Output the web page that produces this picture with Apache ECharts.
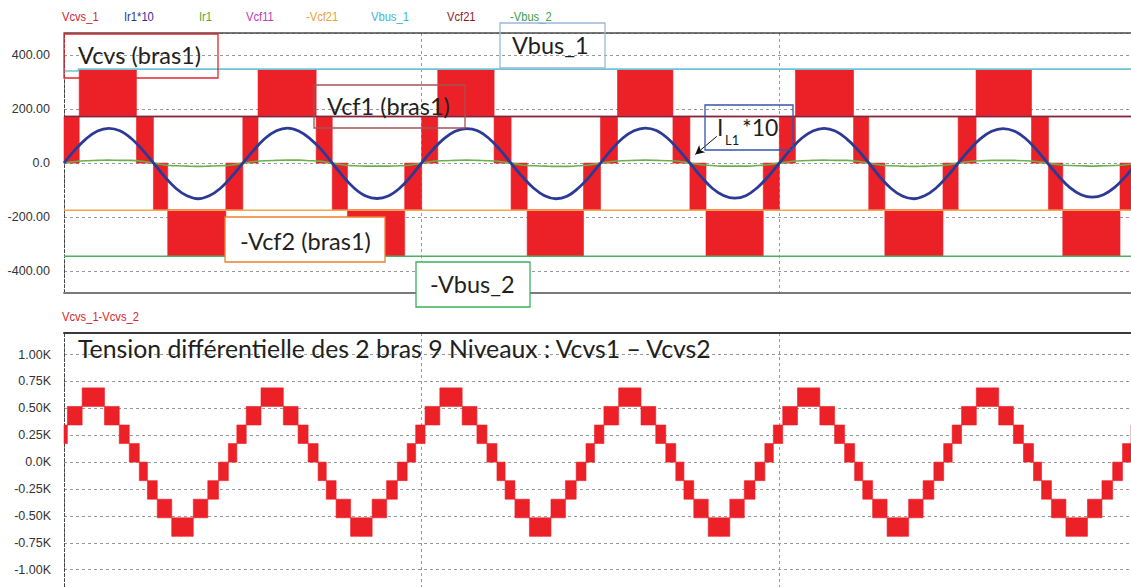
<!DOCTYPE html>
<html><head><meta charset="utf-8">
<script src="https://cdn.jsdelivr.net/npm/echarts@6/dist/echarts.min.js"></script>
<style>html,body{margin:0;padding:0;background:#fff}#c{width:1131px;height:587px}</style>
</head><body><div id="c"></div>
<script>
// ---------------- DATA (time in ms) ----------------
const legendNames  = ['Vcvs_1', 'Ir1*10', 'Ir1', 'Vcf11', '-Vcf21', 'Vbus_1', 'Vcf21', '-Vbus_2'];
const legendColors = ['#d8262c', '#2e3192', '#52a838', '#c23bb5', '#e8a23c', '#3fb4d4', '#8b1a2a', '#3a9e52'];
const legendX      = [62, 124, 199, 246, 306, 371, 447, 510];

// Vcvs_1 (bras1) : PWM blocks, each block between a low and a high level
const vcvsEdges = [0, 1.7, 8.1, 10.0, 11.6, 18.1,
  20, 21.7, 28.2, 30, 31.7, 38.1,
  40, 41.8, 48.1, 50, 51.8, 58.1,
  60, 61.9, 68.1, 70, 71.8, 78.2,
  80, 81.8, 88.3, 90, 91.8, 98.3,
  100, 102.0, 108.2, 110.1, 111.7, 118.1,
  120, 121.7];
const vcvsLow = [0, 172.5, 0, -172.5, -345, -172.5,
  0, 172.5, 0, -172.5, -345, -172.5,
  0, 172.5, 0, -172.5, -345, -172.5,
  0, 172.5, 0, -172.5, -345, -172.5,
  0, 172.5, 0, -172.5, -345, -172.5,
  0, 172.5, 0, -172.5, -345, -172.5,
  0];
const vcvsHigh = [172.5, 345, 172.5, 0, -172.5, 0,
  172.5, 345, 172.5, 0, -172.5, 0,
  172.5, 345, 172.5, 0, -172.5, 0,
  172.5, 345, 172.5, 0, -172.5, 0,
  172.5, 345, 172.5, 0, -172.5, 0,
  172.5, 345, 172.5, 0, -172.5, 0,
  172.5];

// Vcvs_1 - Vcvs_2 : 9-level differential voltage, PWM blocks
const diffEdges = [-1.62, -0.67, 0.38, 2.03, 4.53, 6.18, 7.30, 8.42, 9.33, 10.43, 12.05, 14.46, 16.08, 17.28,
  18.38, 19.33, 20.38, 22.03, 24.53, 26.18, 27.30, 28.42, 29.33, 30.43, 32.05, 34.46, 36.08, 37.28,
  38.38, 39.33, 40.38, 42.03, 44.53, 46.18, 47.30, 48.42, 49.33, 50.43, 52.05, 54.46, 56.08, 57.28,
  58.38, 59.33, 60.38, 62.03, 64.53, 66.18, 67.30, 68.42, 69.33, 70.43, 72.05, 74.46, 76.08, 77.28,
  78.38, 79.33, 80.38, 82.03, 84.53, 86.18, 87.30, 88.42, 89.33, 90.43, 92.05, 94.46, 96.08, 97.28,
  98.38, 99.33, 100.38, 102.03, 104.53, 106.18, 107.30, 108.42, 109.33, 110.43, 112.05, 114.46, 116.08, 117.28,
  118.38, 119.33, 120.38, 122.03];
const diffLow = [0, 172.5, 345, 517.5, 345, 172.5, 0, -172.5, -345, -517.5, -690, -517.5, -345, -172.5,
  0, 172.5, 345, 517.5, 345, 172.5, 0, -172.5, -345, -517.5, -690, -517.5, -345, -172.5,
  0, 172.5, 345, 517.5, 345, 172.5, 0, -172.5, -345, -517.5, -690, -517.5, -345, -172.5,
  0, 172.5, 345, 517.5, 345, 172.5, 0, -172.5, -345, -517.5, -690, -517.5, -345, -172.5,
  0, 172.5, 345, 517.5, 345, 172.5, 0, -172.5, -345, -517.5, -690, -517.5, -345, -172.5,
  0, 172.5, 345, 517.5, 345, 172.5, 0, -172.5, -345, -517.5, -690, -517.5, -345, -172.5,
  0, 172.5, 345];
const diffHigh = [172.5, 345, 517.5, 690, 517.5, 345, 172.5, 0, -172.5, -345, -517.5, -345, -172.5, 0,
  172.5, 345, 517.5, 690, 517.5, 345, 172.5, 0, -172.5, -345, -517.5, -345, -172.5, 0,
  172.5, 345, 517.5, 690, 517.5, 345, 172.5, 0, -172.5, -345, -517.5, -345, -172.5, 0,
  172.5, 345, 517.5, 690, 517.5, 345, 172.5, 0, -172.5, -345, -517.5, -345, -172.5, 0,
  172.5, 345, 517.5, 690, 517.5, 345, 172.5, 0, -172.5, -345, -517.5, -345, -172.5, 0,
  172.5, 345, 517.5, 690, 517.5, 345, 172.5, 0, -172.5, -345, -517.5, -345, -172.5, 0,
  172.5, 345, 517.5];

// Currents (sampled every 1.25 ms)
const sampleTime = [0, 1.25, 2.5, 3.75, 5, 6.25, 7.5, 8.75, 10, 11.25, 12.5, 13.75, 15, 16.25, 17.5, 18.75,
  20, 21.25, 22.5, 23.75, 25, 26.25, 27.5, 28.75, 30, 31.25, 32.5, 33.75, 35, 36.25, 37.5, 38.75,
  40, 41.25, 42.5, 43.75, 45, 46.25, 47.5, 48.75, 50, 51.25, 52.5, 53.75, 55, 56.25, 57.5, 58.75,
  60, 61.25, 62.5, 63.75, 65, 66.25, 67.5, 68.75, 70, 71.25, 72.5, 73.75, 75, 76.25, 77.5, 78.75,
  80, 81.25, 82.5, 83.75, 85, 86.25, 87.5, 88.75, 90, 91.25, 92.5, 93.75, 95, 96.25, 97.5, 98.75,
  100, 101.25, 102.5, 103.75, 105, 106.25, 107.5, 108.75, 110, 111.25, 112.5, 113.75, 115, 116.25, 117.5, 118.75,
  120];
const ir1x10 = [0, 50, 91, 119, 129, 120, 92, 50, 1, -50, -93, -121, -132, -121, -93, -50,
  0, 49, 92, 120, 130, 119, 91, 51, 0, -51, -94, -122, -131, -122, -94, -51,
  1, 50, 91, 118, 128, 120, 92, 50, -1, -50, -92, -121, -132, -123, -93, -51,
  0, 51, 93, 120, 130, 121, 92, 49, 0, -50, -93, -120, -130, -121, -92, -50,
  0, 50, 92, 119, 129, 119, 91, 50, 1, -51, -94, -122, -132, -121, -93, -50,
  0, 49, 91, 118, 128, 119, 92, 50, 0, -49, -91, -117, -126, -117, -90, -48,
  0];
const ir1 = [0, 6, 9, 10, 11, 10, 10, 7, 0, -7, -10, -11, -12, -11, -10, -7,
  0, 6, 9, 10, 11, 11, 9, 7, 0, -7, -10, -11, -11, -11, -10, -7,
  0, 7, 9, 10, 11, 10, 9, 6, 0, -7, -10, -11, -12, -12, -10, -7,
  0, 6, 9, 10, 11, 10, 9, 7, 0, -6, -9, -11, -11, -11, -9, -6,
  0, 6, 9, 10, 11, 10, 10, 7, 0, -7, -10, -11, -12, -11, -10, -7,
  0, 6, 9, 10, 10, 10, 9, 6, 0, -6, -9, -10, -11, -10, -9, -6,
  0];

// DC levels
const vbus1Time = [0, 1.6, 1.6, 120];
const vbus1     = [341, 341, 348, 348];
const levelTime = [0, 120];
const vcf11     = [173, 173];
const vcf21     = [173, 173];
const negVcf21  = [-175, -175];
const negVbus2  = [-345, -345];

// ---------------- CHART ----------------
const pairs = (t, v) => t.map((x, i) => [x, v[i]]);
const blocks = (edges, lo, hi) => lo.map((l, i) => [edges[i], edges[i + 1], l, hi[i]]);

function renderBlock(params, api) {
  const p0 = api.coord([api.value(0), api.value(3)]);
  const p1 = api.coord([api.value(1), api.value(2)]);
  const cs = params.coordSys;
  const r = echarts.graphic.clipRectByRect(
    { x: p0[0], y: p0[1], width: p1[0] - p0[0], height: p1[1] - p0[1] },
    { x: cs.x, y: cs.y, width: cs.width, height: cs.height });
  return r && { type: 'rect', shape: r, style: { fill: '#ec2027', stroke: '#ec2027', lineWidth: 0.6 } };
}

const AX_FONT = '"Liberation Sans", Arial, sans-serif';
const BIG_FONT = 'Lato, "Open Sans", sans-serif';
const splitStyle = { show: true, lineStyle: { color: '#999', type: [3, 3], width: 1 } };

function lineS(name, data, color, width, z, extra) {
  return Object.assign({ name, type: 'line', xAxisIndex: 0, yAxisIndex: 0, data, symbol: 'none',
    lineStyle: { color, width }, itemStyle: { color }, z, animation: false }, extra || {});
}

const graphic = [];
legendNames.forEach((n, i) => graphic.push({ type: 'text', x: legendX[i], y: 17, z: 100, scaleX: 0.86,
  style: { text: n, fill: legendColors[i], font: '13px ' + AX_FONT, verticalAlign: 'middle' } }));
graphic.push({ type: 'text', x: 62, y: 317, z: 100, scaleX: 0.86,
  style: { text: 'Vcvs_1-Vcvs_2', fill: '#d8262c', font: '13px ' + AX_FONT, verticalAlign: 'middle' } });

function box(x, y, w, h, stroke, fill) {
  graphic.push({ type: 'rect', z: 100, shape: { x, y, width: w, height: h },
    style: { fill: fill || 'none', stroke, lineWidth: 1.3 } });
}
function label(x, y, text, size) {
  graphic.push({ type: 'text', x, y, z: 101,
    style: { text, fill: '#231f20', font: (size || 23.5) + 'px ' + BIG_FONT, verticalAlign: 'middle' } });
}
box(64, 34, 154, 44, '#e3262d'); label(78, 55, 'Vcvs (bras1)');
box(500, 23, 105, 45, '#9ab8dc'); label(512, 45, 'Vbus_1');
box(314, 85, 151, 43, '#a05555'); label(327, 106, 'Vcf1 (bras1)');
box(705, 105, 88, 45, '#3355aa'); label(717, 127, 'I', 23); label(725, 140, 'L1', 13); label(742, 127, '*10', 23);
box(225, 217, 160, 45, '#f07f2e', '#fff'); label(240, 241, '-Vcf2 (bras1)');
box(416, 262, 114, 45, '#3cb05a', '#fff'); label(430, 284, '-Vbus_2');
label(78, 348, 'Tension différentielle des 2 bras 9 Niveaux : Vcvs1 – Vcvs2', 24.8);

const chart = echarts.init(document.getElementById('c'), null, { renderer: 'svg' });
chart.setOption({
  animation: false,
  backgroundColor: '#fff',
  grid: [
    { left: 64, top: 33, width: 1073, height: 259.7, outerBoundsMode: 'none', containLabel: false },
    { left: 64, top: 333, width: 1073, height: 263.6, outerBoundsMode: 'none', containLabel: false }
  ],
  xAxis: [
    { type: 'value', gridIndex: 0, min: 0, max: 120, interval: 40,
      axisLine: { onZero: false, lineStyle: { color: '#7a7a7a', width: 2 } },
      axisTick: { show: false }, axisLabel: { show: false }, splitLine: splitStyle },
    { type: 'value', gridIndex: 0, position: 'top', min: 0, max: 120,
      axisLine: { onZero: false, lineStyle: { color: '#4a4a4a', width: 1.5 } },
      axisTick: { show: false }, axisLabel: { show: false }, splitLine: { show: false } },
    { type: 'value', gridIndex: 1, min: 0, max: 120, interval: 40,
      axisLine: { onZero: false, lineStyle: { color: '#7a7a7a', width: 2 } },
      axisTick: { show: false }, axisLabel: { show: false }, splitLine: splitStyle },
    { type: 'value', gridIndex: 1, position: 'top', min: 0, max: 120,
      axisLine: { onZero: false, lineStyle: { color: '#3a3a3a', width: 2 } },
      axisTick: { show: false }, axisLabel: { show: false }, splitLine: { show: false } }
  ],
  yAxis: [
    { type: 'value', gridIndex: 0, min: -480, max: 482, splitNumber: 5,
      axisLine: { show: true, onZero: false, lineStyle: { color: '#444', type: [3, 2], width: 1 } },
      axisTick: { show: false },
      axisLabel: { color: '#333', fontSize: 12.5, fontFamily: AX_FONT, margin: 14, showMinLabel: false, showMaxLabel: false,
        formatter: v => (v === 0 ? '0.0' : v.toFixed(2)) },
      splitLine: splitStyle },
    { type: 'value', gridIndex: 1, min: -1250, max: 1200, interval: 250,
      axisLine: { show: true, onZero: false, lineStyle: { color: '#444', type: [3, 2], width: 1 } },
      axisTick: { show: false },
      axisLabel: { color: '#333', fontSize: 12.5, fontFamily: AX_FONT, margin: 13, showMinLabel: false, showMaxLabel: false,
        formatter: v => (v === 0 ? '0.0K' : (v / 1000).toFixed(2) + 'K') },
      splitLine: splitStyle }
  ],
  series: [
    { name: 'Vcvs_1', type: 'custom', xAxisIndex: 0, yAxisIndex: 0, renderItem: renderBlock,
      encode: { x: [0, 1], y: [2, 3] }, data: blocks(vcvsEdges, vcvsLow, vcvsHigh), z: 2 },
    { name: 'Vcvs_1-Vcvs_2', type: 'custom', xAxisIndex: 2, yAxisIndex: 1, renderItem: renderBlock,
      encode: { x: [0, 1], y: [2, 3] }, data: blocks(diffEdges, diffLow, diffHigh), z: 2 },
    lineS('Vbus_1', pairs(vbus1Time, vbus1), '#6cc5d5', 1.6, 3),
    lineS('Vcf11', pairs(levelTime, vcf11), '#c23bb5', 1.5, 3),
    lineS('Vcf21', pairs(levelTime, vcf21), '#7d2a2a', 1.5, 3),
    lineS('-Vcf21', pairs(levelTime, negVcf21), '#f2a54a', 1.5, 3),
    lineS('-Vbus_2', pairs(levelTime, negVbus2), '#4caf63', 1.6, 3),
    lineS('Ir1', pairs(sampleTime, ir1), '#6ab04c', 1.6, 4, { smooth: 0.3 }),
    lineS('Ir1*10', pairs(sampleTime, ir1x10), '#2b3a96', 2.8, 5, { smooth: 0.4,
      markLine: { silent: true, symbolSize: [7, 9], label: { show: false },
        lineStyle: { color: '#111', width: 1, type: 'solid' },
        data: [[{ coord: [73.0, 99], symbol: 'none' }, { coord: [70.6, 32], symbol: 'arrow' }]] } })
  ],
  graphic
});
</script></body></html>
